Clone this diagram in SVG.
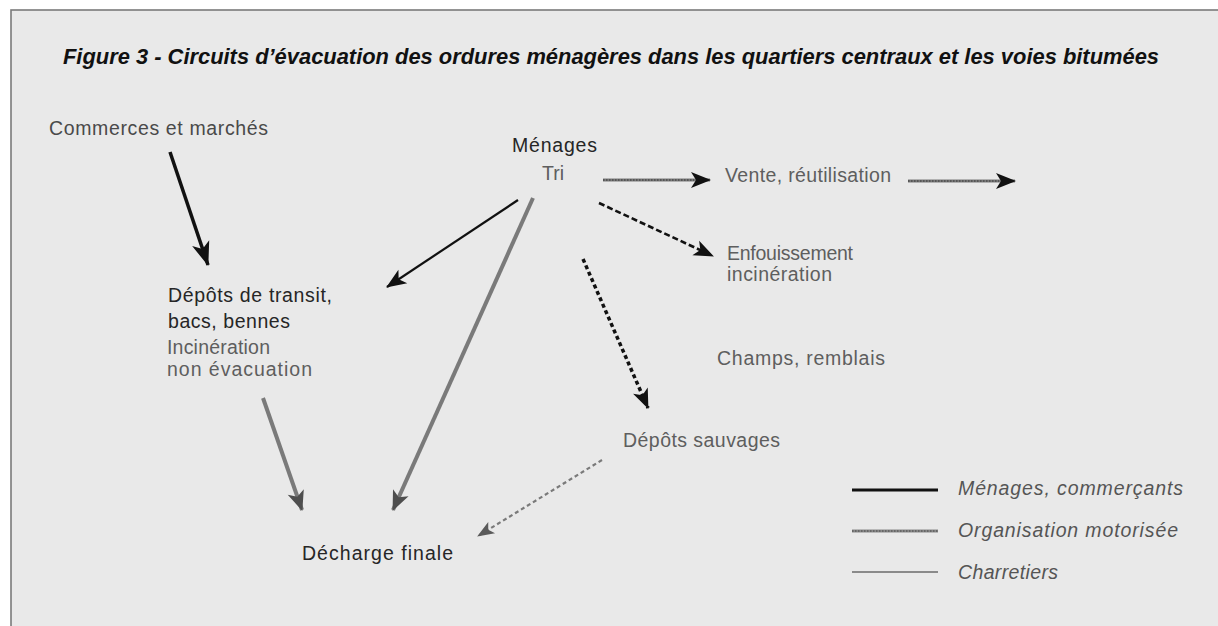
<svg xmlns="http://www.w3.org/2000/svg" width="1218" height="626" viewBox="0 0 1218 626">
<style>
.t{font-family:"Liberation Sans","DejaVu Sans",sans-serif;font-size:19.5px;}
.dk{fill:#262626;}
.md{fill:#4a4a4a;}
.lt{fill:#5e5e5e;}
.lg{font-style:italic;fill:#555;}
.title{font-family:"Liberation Sans","DejaVu Sans",sans-serif;font-size:22px;font-weight:bold;font-style:italic;fill:#111;}
.blk{stroke:#111;fill:none;}
.gry{stroke:#7a7a7a;fill:none;}
</style>
<defs>
<marker id="mBlkL" markerUnits="userSpaceOnUse" markerWidth="24" markerHeight="18" refX="23" refY="9" orient="auto" overflow="visible"><path d="M0,0 L24,9 L0,18 L6,9 z" fill="#111"/></marker>
<marker id="mBlk" markerUnits="userSpaceOnUse" markerWidth="20" markerHeight="16" refX="19" refY="8" orient="auto" overflow="visible"><path d="M0,0 L20,8 L0,16 L5,8 z" fill="#111"/></marker>
<marker id="mGray" markerUnits="userSpaceOnUse" markerWidth="20" markerHeight="17" refX="19" refY="8.5" orient="auto" overflow="visible"><path d="M0,0 L20,8.5 L0,17 L5,8.5 z" fill="#4e4e4e"/></marker>
<marker id="mGraySm" markerUnits="userSpaceOnUse" markerWidth="17" markerHeight="13" refX="16" refY="6.5" orient="auto" overflow="visible"><path d="M0,0 L17,6.5 L0,13 L4,6.5 z" fill="#5a5a5a"/></marker>
</defs>
<rect x="0" y="0" width="1218" height="626" fill="#ffffff"/>
<rect x="11" y="10" width="1230" height="640" fill="#e9e9e9" stroke="#7a7a7a" stroke-width="1.6"/>
<text class="title" x="63" y="64" textLength="1096" lengthAdjust="spacingAndGlyphs">Figure 3 - Circuits d’évacuation des ordures ménagères dans les quartiers centraux et les voies bitumées</text>

<g id="connectors">
<line class="blk" x1="170" y1="152" x2="208" y2="265" stroke-width="3.5" marker-end="url(#mBlkL)"/>
<line class="blk" x1="518" y1="200" x2="387" y2="287" stroke-width="2.2" marker-end="url(#mBlk)"/>
<line class="gry" x1="533" y1="198" x2="393" y2="510" stroke-width="4" marker-end="url(#mGray)"/>
<line class="gry" x1="263" y1="398" x2="302" y2="510" stroke-width="4" marker-end="url(#mGray)"/>
<line class="gry" x1="603" y1="180" x2="710" y2="180" stroke-width="3.2" stroke="#8a8a8a" marker-end="url(#mBlk)"/>
<line x1="603" y1="180" x2="694" y2="180" stroke="#333" stroke-width="1.2" stroke-dasharray="1.5 1.5"/>
<line class="gry" x1="908" y1="181" x2="1015" y2="181" stroke-width="3.2" stroke="#8a8a8a" marker-end="url(#mBlk)"/>
<line x1="908" y1="181" x2="999" y2="181" stroke="#333" stroke-width="1.2" stroke-dasharray="1.5 1.5"/>
<line class="blk" x1="599" y1="203" x2="713" y2="256" stroke-width="2.6" stroke-dasharray="6 3" marker-end="url(#mBlk)"/>
<line class="blk" x1="583" y1="259" x2="648" y2="408" stroke-width="3.5" stroke-dasharray="4 3" marker-end="url(#mBlk)"/>
<line class="gry" x1="602" y1="460" x2="478" y2="536" stroke-width="2.2" stroke="#6a6a6a" stroke-dasharray="4 3" marker-end="url(#mGraySm)"/>
</g>

<g id="commerces"><text class="t md" x="49" y="135" textLength="219">Commerces et marchés</text></g>
<g id="menages">
<text class="t dk" x="512" y="152" textLength="85">Ménages</text>
<text class="t lt" x="542" y="180">Tri</text>
</g>
<g id="vente"><text class="t lt" x="725" y="182" textLength="166">Vente, réutilisation</text></g>
<g id="enfouissement">
<text class="t lt" x="727" y="260" textLength="126">Enfouissement</text>
<text class="t lt" x="727" y="281" textLength="105">incinération</text>
</g>
<g id="depots-transit">
<text class="t dk" x="168" y="302" textLength="164">Dépôts de transit,</text>
<text class="t dk" x="168" y="328" textLength="122">bacs, bennes</text>
<text class="t lt" x="167" y="354" textLength="103">Incinération</text>
<text class="t lt" x="167" y="376" textLength="145">non évacuation</text>
</g>
<g id="champs"><text class="t lt" x="717" y="365" textLength="168">Champs, remblais</text></g>
<g id="depots-sauvages"><text class="t lt" x="623" y="447" textLength="157">Dépôts sauvages</text></g>
<g id="decharge"><text class="t dk" x="302" y="560" textLength="151">Décharge finale</text></g>

<g id="legend">
<line x1="852" y1="490" x2="938" y2="490" stroke="#111" stroke-width="3.2"/>
<line x1="852" y1="531" x2="938" y2="531" stroke="#8a8a8a" stroke-width="3"/>
<line x1="852" y1="531" x2="938" y2="531" stroke="#444" stroke-width="1" stroke-dasharray="1.5 1.5"/>
<line x1="852" y1="572" x2="938" y2="572" stroke="#8a8a8a" stroke-width="2"/>
<text class="t lg" x="958" y="495" textLength="225">Ménages, commerçants</text>
<text class="t lg" x="958" y="537" textLength="220">Organisation motorisée</text>
<text class="t lg" x="958" y="579" textLength="100">Charretiers</text>
</g>
</svg>
